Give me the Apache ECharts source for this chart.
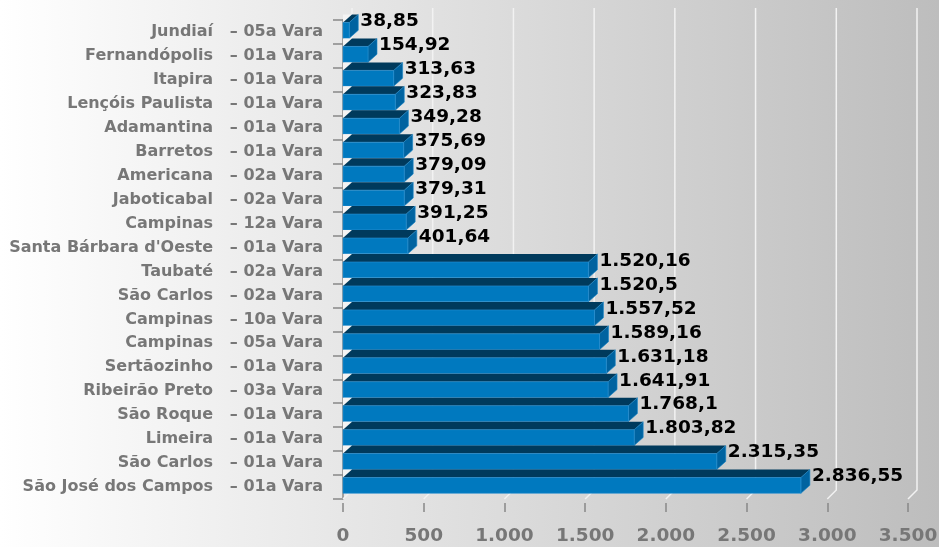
<!DOCTYPE html>
<html>
<head>
<meta charset="utf-8">
<title>Vara ranking</title>
<script src="https://cdn.jsdelivr.net/npm/echarts@6/dist/echarts.min.js"></script>
<style>
    html, body { margin: 0; padding: 0; }
    #chart { width: 939px; height: 547px; }
</style>
</head>
<body>
<div id="chart"></div>
<script>
// categorias (de cima para baixo) e valores
const categories = [
    'Jundiaí   – 05a Vara',
    'Fernandópolis   – 01a Vara',
    'Itapira   – 01a Vara',
    'Lençóis Paulista   – 01a Vara',
    'Adamantina   – 01a Vara',
    'Barretos   – 01a Vara',
    'Americana   – 02a Vara',
    'Jaboticabal   – 02a Vara',
    'Campinas   – 12a Vara',
    "Santa Bárbara d'Oeste   – 01a Vara",
    'Taubaté   – 02a Vara',
    'São Carlos   – 02a Vara',
    'Campinas   – 10a Vara',
    'Campinas   – 05a Vara',
    'Sertãozinho   – 01a Vara',
    'Ribeirão Preto   – 03a Vara',
    'São Roque   – 01a Vara',
    'Limeira   – 01a Vara',
    'São Carlos   – 01a Vara',
    'São José dos Campos   – 01a Vara'
];
const values = [
    38.85, 154.92, 313.63, 323.83, 349.28, 375.69, 379.09, 379.31, 391.25, 401.64,
    1520.16, 1520.5, 1557.52, 1589.16, 1631.18, 1641.91, 1768.1, 1803.82, 2315.35, 2836.55
];
const xTicks = [0, 500, 1000, 1500, 2000, 2500, 3000, 3500];

// profundidade do efeito 3D
const DX = 9;
const DY = 8;

function fmtBR(v) {
    const parts = String(v).split('.');
    parts[0] = parts[0].replace(/\B(?=(\d{3})+(?!\d))/g, '.');
    return parts.join(',');
}

// parede do fundo + linhas de grade
function renderWall(params, api) {
    const cs = params.coordSys;
    const x = api.coord([api.value(0), 0])[0];
    const bottom = cs.y + cs.height;
    return {
        type: 'polyline',
        shape: { points: [[x + DX, cs.y - 12], [x + DX, bottom - DY - 1], [x, bottom]] },
        style: { stroke: '#f2f2f2', lineWidth: 1.5, fill: null }
    };
}

// barra 3D
function renderBar(params, api) {
    const v = api.value(0);
    const i = api.value(1);
    const p0 = api.coord([0, i]);
    const p1 = api.coord([v, i]);
    const x0 = p0[0], x1 = p1[0], c = p0[1];
    const yt = c - 9.5, yb = c + 6.3;
    return {
        type: 'group',
        children: [
            {
                type: 'polygon',
                shape: { points: [[x0, yt], [x0 + DX, yt - DY], [x0, yt - DY]] },
                style: { fill: '#f4f4f4' }
            },
            {
                type: 'polygon',
                shape: { points: [[x0, yt], [x1, yt], [x1 + DX, yt - DY], [x0 + DX, yt - DY]] },
                style: { fill: '#003a5c' }
            },
            {
                type: 'polygon',
                shape: { points: [[x1, yt], [x1 + DX, yt - DY], [x1 + DX, yb - DY], [x1, yb]] },
                style: { fill: '#0063a0', stroke: '#1a86c8', lineWidth: 0.6 }
            },
            {
                type: 'rect',
                shape: { x: x0, y: yt, width: x1 - x0, height: yb - yt },
                style: { fill: '#0079bf', stroke: '#2a90d2', lineWidth: 0.6 }
            },
            {
                type: 'text',
                x: x1 + DX + 2,
                y: yt - 1,
                style: {
                    text: fmtBR(v),
                    font: 'bold 18.5px "DejaVu Sans"',
                    fill: '#000',
                    align: 'left',
                    verticalAlign: 'middle'
                }
            }
        ]
    };
}

const chart = echarts.init(document.getElementById('chart'));

const option = {
    animation: false,
    backgroundColor: new echarts.graphic.LinearGradient(0, 0, 1, 0, [
        { offset: 0, color: '#ffffff' },
        { offset: 1, color: '#bdbdbd' }
    ]),
    grid: {
        left: 343, right: 31, top: 20, bottom: 48,
        containLabel: false,
        outerBoundsMode: 'none'
    },
    xAxis: {
        type: 'value',
        min: 0,
        max: 3500,
        interval: 500,
        offset: 4,
        axisLine: { show: false },
        axisTick: { show: true, length: 9, lineStyle: { color: '#888', width: 1.5 } },
        splitLine: { show: false },
        axisLabel: {
            margin: 24,
            color: '#777',
            fontFamily: 'DejaVu Sans',
            fontWeight: 'bold',
            fontSize: 18.5,
            formatter: v => fmtBR(v)
        }
    },
    yAxis: {
        type: 'category',
        inverse: true,
        data: categories,
        axisLine: { show: true, lineStyle: { color: '#888', width: 1.5 } },
        axisTick: { show: true, length: 10, lineStyle: { color: '#888', width: 1.5 } },
        axisLabel: {
            margin: 20,
            color: '#777',
            fontFamily: 'DejaVu Sans',
            fontWeight: 'bold',
            fontSize: 16
        }
    },
    series: [
        {
            type: 'custom',
            name: 'grade',
            silent: true,
            clip: false,
            z: 1,
            renderItem: renderWall,
            encode: { x: 0, y: 1 },
            data: xTicks.map(t => [t, 0])
        },
        {
            type: 'custom',
            name: 'valores',
            clip: false,
            z: 3,
            renderItem: renderBar,
            encode: { x: 0, y: 1 },
            data: values.map((v, i) => [v, i])
        }
    ]
};

chart.setOption(option);
window.addEventListener('resize', () => chart.resize());
</script>
</body>
</html>
